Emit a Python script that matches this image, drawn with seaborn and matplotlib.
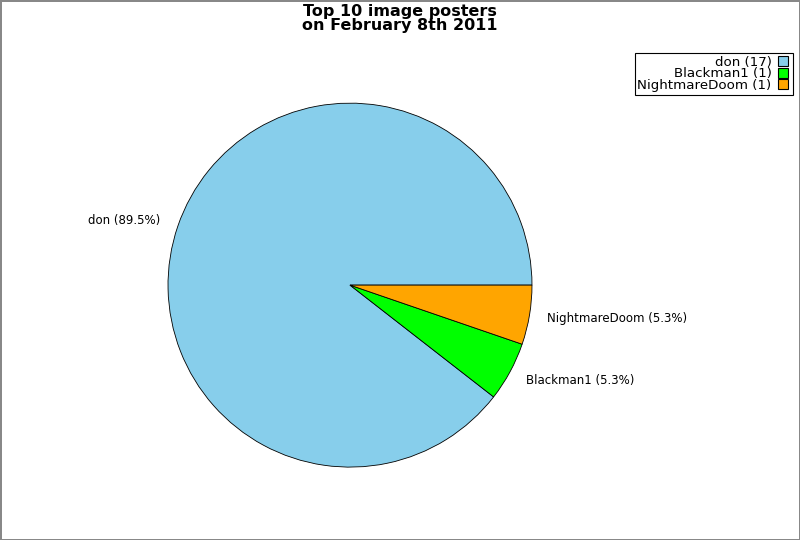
import matplotlib
matplotlib.use("Agg")
import matplotlib.pyplot as plt
import seaborn as sns
from matplotlib.lines import Line2D

# data
posters = ["don", "Blackman1", "NightmareDoom"]
counts = [17, 1, 1]
colors = ["#87CEEB", "#00FF00", "#FFA500"]

sns.set_style("white")
plt.rcParams['font.family'] = ['DejaVu Sans']
plt.rcParams['text.color'] = 'black'

fig = plt.figure(figsize=(8, 5.4), dpi=100, edgecolor="#888888", linewidth=2)
ax = fig.add_axes([0.21, 0.135, 0.455, 0.674])

total = sum(counts)
labels = ["%s (%.1f%%)" % (p, 100.0 * c / total) for p, c in zip(posters, counts)]
ax.pie(counts, labels=labels, colors=colors, startangle=0, counterclock=True,
       labeldistance=1.1, radius=1,
       wedgeprops={"edgecolor": "black", "linewidth": 0.6},
       textprops={"fontsize": 8.5, "color": "black"})
ax.set_xlim(-1, 1)
ax.set_ylim(-1, 1)
ax.set_aspect("equal")

fig.suptitle("Top 10 image posters\non February 8th 2011", fontsize=11.5,
             fontweight="bold", y=0.993, linespacing=0.9, color="black")

handles = [Line2D([], [], marker="s", linestyle="", markersize=7,
                  markerfacecolor=c, markeredgecolor="black", markeredgewidth=0.8)
           for c in colors]
leg_labels = ["%s (%d)" % (p, c) for p, c in zip(posters, counts)]
leg = fig.legend(handles, leg_labels, loc="upper right", bbox_to_anchor=(0.991, 0.902),
                 markerfirst=False, fontsize=9.6, frameon=True, fancybox=False,
                 edgecolor="black", framealpha=1, borderpad=0.2, labelspacing=-0.1,
                 handletextpad=0.4, handlelength=1.0, borderaxespad=0)
leg.get_frame().set_linewidth(0.8)
for t in leg.get_texts():
    t.set_ha("right")
    t.set_color("black")
leg._legend_box.align = "right"

fig.savefig("out.png", dpi=100, edgecolor=fig.get_edgecolor())
